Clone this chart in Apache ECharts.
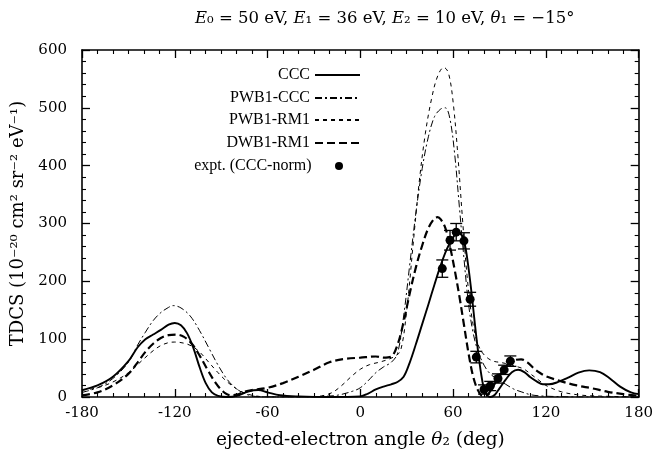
<!DOCTYPE html>
<html><head><meta charset="utf-8">
<script src="https://cdn.jsdelivr.net/npm/echarts@6/dist/echarts.min.js"></script>
<style>html,body{margin:0;padding:0;background:#fff}#c{width:656px;height:462px}</style>
</head><body><div id="c"></div>
<script>
// ---- data ----
const cccX = [-180,-170,-160,-150,-144,-139,-134,-129,-124,-120,-116,-112,-108,-104,-100,-96,-92,-86,-80,-72,-66,-60,-52,-40,-20,0,5,10,15,20,24,28,32,36,40,44,48,52,56,60,63,66,68,70,72,74,76,78,80,82,84,87,90,94,98,102,106,110,114,118,122,128,134,141,148,155,161,168,175,180];
const cccY = [12,20,35,62,86,100,108,116,125,128,124,110,85,52,24,8,2,0,2,10,12,8,3,1,0,1,6,13,18,22,26,35,60,92,126,160,195,228,256,276,284,278,258,222,178,128,82,42,14,3,0,4,15,30,43,47,43,34,27,22,22,26,33,42,46,43,33,18,8,5];

const pwbCccX = [-180,-170,-160,-150,-144,-139,-134,-129,-124,-121,-116,-110,-104,-98,-92,-86,-80,-74,-68,-60,-40,-25,-15,-5,0,5,10,15,20,24,28,32,36,40,44,48,52,55,58,61,64,67,70,73,76,80,84,89,94,99,104,110,116,124,140,180];
const pwbCccY = [8,16,32,60,90,112,132,146,155,158,154,140,115,85,55,30,14,5,1,0,0,1,3,10,16,28,42,52,60,75,140,230,320,395,450,485,498,500,480,420,330,240,160,110,80,55,40,30,22,14,9,4,2,1,0,0];

const pwbRmX = [-180,-170,-160,-150,-140,-134,-129,-124,-120,-114,-109,-104,-98,-92,-86,-80,-74,-68,-60,-40,-25,-18,-12,-6,0,6,12,18,22,26,30,34,38,42,46,50,54,57,60,63,66,69,72,75,78,82,86,90,94,98,102,106,110,115,120,130,140,150,180];
const pwbRmY = [12,16,26,42,66,80,89,94,95,93,88,78,60,42,26,14,6,2,0,0,2,8,20,35,48,56,60,65,70,80,150,260,370,455,515,555,570,560,510,420,310,210,140,100,80,68,62,60,58,55,52,48,40,30,20,9,4,2,0];

const dwbRmX = [-180,-170,-160,-150,-144,-139,-134,-129,-124,-119,-114,-109,-104,-99,-94,-89,-84,-80,-75,-70,-60,-50,-40,-30,-20,-10,0,10,15,20,24,28,32,36,40,44,48,50,52,55,58,61,64,67,70,73,76,79,81,84,88,92,96,100,104,108,112,116,120,130,140,150,160,170,180];
const dwbRmY = [3,8,20,40,60,78,92,102,107,108,104,92,72,48,26,10,3,4,9,12,16,24,35,47,60,66,68,70,68,70,90,130,180,225,262,292,309,311,307,292,260,220,175,125,75,35,12,2,2,10,28,45,58,64,65,60,50,42,36,27,20,15,9,5,2];

const exptX = [53,58,62,67,71,75,80,84,89,93,97];
const exptY = [222,271,285,270,169,69,13,19,32,47,62];
const exptErr = [15,17,15,14,12,10,8,8,8,8,9];

const xTicks = [-180,-120,-60,0,60,120,180];
const yTicks = [0,100,200,300,400,500,600];

// ---- build ----
const zip = (a,b) => a.map((v,i)=>[v,b[i]]);
const FONT = 'DejaVu Serif';
const LFONT = 'Liberation Serif';
const names = ['CCC','PWB1-CCC','PWB1-RM1','DWB1-RM1','expt. (CCC-norm)'];

function axisCommon(show, split){
  return {
    axisLine:{show:true,onZero:false,lineStyle:{color:'#000',width:1.6}},
    axisTick:{show:true,inside:true,length:8,lineStyle:{color:'#000',width:1.3}},
    minorTick:{show:true,splitNumber:split,length:4,lineStyle:{color:'#000',width:1.1}},
    splitLine:{show:false},
    axisLabel:{show:show,color:'#000',fontFamily:FONT,fontSize:15}
  };
}

const chart = echarts.init(document.getElementById('c'),null,{renderer:'canvas'});
const legendTops = [62,85,107,130,153];
const option = {
  backgroundColor:'#fff',
  animation:false,
  title:{
    text:'{i|E}₀ = 50 eV, {i|E}₁ = 36 eV, {i|E}₂ = 10 eV, {i|θ}₁ = −15°',
    left:190, top:5,
    textStyle:{fontFamily:FONT,fontSize:16.5,fontWeight:'normal',color:'#000',
      rich:{i:{fontFamily:FONT,fontSize:16.5,fontStyle:'italic',color:'#000'}}}
  },
  grid:{left:82,right:15,top:50,bottom:65,containLabel:false},
  legend: names.map((n,i)=>({
    data:[n], right: i===4 ? 308 : 290, top:legendTops[i], orient:'vertical', align:'right',
    itemWidth:45, itemHeight: i===4 ? 8 : 14, selectedMode:false,
    itemStyle: i===4 ? {color:'#000',opacity:1} : {color:'rgba(0,0,0,0)',borderWidth:0,borderColor:'rgba(0,0,0,0)'},
    textStyle:{fontFamily:LFONT,fontSize:16,color:'#000'}
  })),
  xAxis:[
    Object.assign({type:'value',min:-180,max:180,interval:60,position:'bottom',
      name:'{n|ejected-electron angle }{i|θ}{n|₂ (deg)}',nameLocation:'middle',nameGap:34,
      nameTextStyle:{rich:{n:{fontFamily:FONT,fontSize:18.5,color:'#000'},i:{fontFamily:FONT,fontSize:18.5,fontStyle:'italic',color:'#000'}}}
    },axisCommon(true,6),{axisLabel:{show:true,color:'#000',fontFamily:FONT,fontSize:15,margin:9}}),
    Object.assign({type:'value',min:-180,max:180,interval:60,position:'top'},axisCommon(false,6))
  ],
  yAxis:[
    Object.assign({type:'value',min:0,max:600,interval:100,position:'left',
      name:'TDCS (10⁻²⁰ cm² sr⁻² eV⁻¹)',nameLocation:'middle',nameGap:54,
      nameTextStyle:{fontFamily:FONT,fontSize:18,color:'#000'}
    },axisCommon(true,5),{axisLabel:{show:true,color:'#000',fontFamily:FONT,fontSize:15,margin:15}}),
    Object.assign({type:'value',min:0,max:600,interval:100,position:'right'},axisCommon(false,5))
  ],
  series:[
    {name:'CCC',type:'line',data:zip(cccX,cccY),smooth:0.35,symbol:'none',
     lineStyle:{color:'#000',width:1.9,type:'solid'},itemStyle:{color:'#000'}},
    {name:'PWB1-CCC',type:'line',data:zip(pwbCccX,pwbCccY),smooth:0.35,symbol:'none',
     lineStyle:{color:'#000',width:1,type:[7,3,2,3]},itemStyle:{color:'#000'}},
    {name:'PWB1-RM1',type:'line',data:zip(pwbRmX,pwbRmY),smooth:0.35,symbol:'none',
     lineStyle:{color:'#000',width:1,type:[4,4]},itemStyle:{color:'#000'}},
    {name:'DWB1-RM1',type:'line',data:zip(dwbRmX,dwbRmY),smooth:0.35,symbol:'none',
     lineStyle:{color:'#000',width:2.2,type:[8,4]},itemStyle:{color:'#000'}},
    {name:'errbars',type:'custom',data:exptX.map((x,i)=>[x,exptY[i],exptErr[i]]),
     renderItem:function(params,api){
       const x=api.value(0),y=api.value(1),e=api.value(2);
       const t=api.coord([x,y+e]), b=api.coord([x,y-e]);
       const hw=6, st={stroke:'#000',lineWidth:1.3};
       return {type:'group',children:[
         {type:'line',shape:{x1:t[0],y1:t[1],x2:b[0],y2:b[1]},style:st},
         {type:'line',shape:{x1:t[0]-hw,y1:t[1],x2:t[0]+hw,y2:t[1]},style:st},
         {type:'line',shape:{x1:b[0]-hw,y1:b[1],x2:b[0]+hw,y2:b[1]},style:st}
       ]};
     }, z:3},
    {name:'expt. (CCC-norm)',type:'scatter',data:zip(exptX,exptY),symbol:'circle',symbolSize:9,
     itemStyle:{color:'#000',opacity:1},z:4}
  ]
};
chart.setOption(option);
</script></body></html>
